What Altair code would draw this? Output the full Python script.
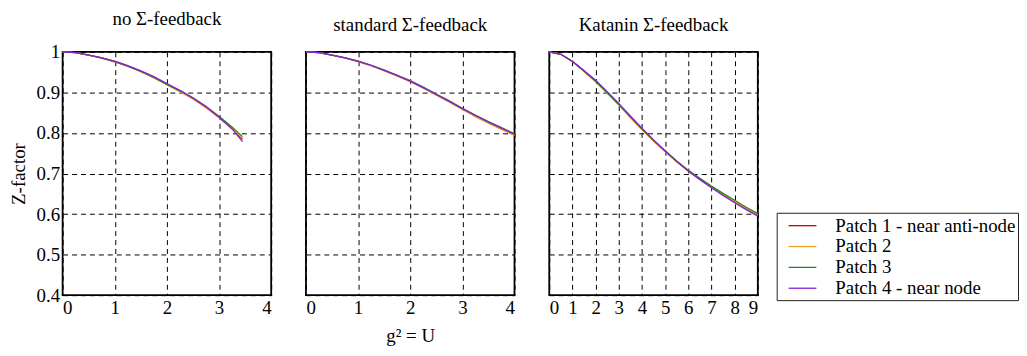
import altair as alt
import pandas as pd

FONT = "Liberation Serif"

patches = ["Patch 1 - near anti-node", "Patch 2", "Patch 3", "Patch 4 - near node"]
colors = ["#d40000", "#f0a020", "#1f8a1f", "#8a1fd8"]

# ---- panel 1: no Sigma-feedback ----
x_none = [0, 0.25, 0.5, 0.75, 1, 1.25, 1.5, 1.75, 2, 2.25, 2.5, 2.75, 3, 3.25, 3.45]
none_p1 = [1.0, 0.998, 0.992, 0.985, 0.976, 0.965, 0.952, 0.937, 0.920, 0.903, 0.885, 0.863, 0.838, 0.811, 0.785]
none_p2 = [1.0, 0.998, 0.992, 0.984, 0.975, 0.964, 0.951, 0.936, 0.919, 0.902, 0.884, 0.862, 0.838, 0.812, 0.787]
none_p3 = [1.0, 0.998, 0.992, 0.985, 0.976, 0.965, 0.952, 0.937, 0.920, 0.904, 0.886, 0.865, 0.841, 0.815, 0.791]
none_p4 = [1.0, 0.998, 0.992, 0.985, 0.977, 0.966, 0.953, 0.939, 0.922, 0.905, 0.887, 0.865, 0.839, 0.810, 0.779]

# ---- panel 2: standard Sigma-feedback ----
x_std = [0, 0.25, 0.5, 0.75, 1, 1.25, 1.5, 1.75, 2, 2.25, 2.5, 2.75, 3, 3.25, 3.5, 3.75, 4]
std_p1 = [1.0, 0.998, 0.992, 0.985, 0.976, 0.966, 0.954, 0.941, 0.927, 0.911, 0.894, 0.877, 0.859, 0.841, 0.825, 0.810, 0.795]
std_p2 = [1.0, 0.998, 0.992, 0.985, 0.976, 0.966, 0.954, 0.941, 0.927, 0.911, 0.894, 0.876, 0.858, 0.841, 0.824, 0.809, 0.794]
std_p3 = [1.0, 0.998, 0.992, 0.985, 0.977, 0.967, 0.955, 0.942, 0.929, 0.913, 0.896, 0.879, 0.861, 0.844, 0.828, 0.813, 0.798]
std_p4 = [1.0, 0.998, 0.992, 0.985, 0.977, 0.967, 0.955, 0.942, 0.928, 0.912, 0.895, 0.878, 0.860, 0.843, 0.827, 0.812, 0.797]

# ---- panel 3: Katanin Sigma-feedback ----
x_kat = [0, 0.5, 1, 1.5, 2, 2.5, 3, 3.5, 4, 4.5, 5, 5.5, 6, 6.5, 7, 7.5, 8, 8.5, 9]
kat_p1 = [1.0, 0.994, 0.976, 0.952, 0.927, 0.899, 0.870, 0.839, 0.809, 0.781, 0.754, 0.729, 0.706, 0.686, 0.667, 0.648, 0.630, 0.613, 0.597]
kat_p2 = [1.0, 0.994, 0.976, 0.952, 0.926, 0.898, 0.869, 0.838, 0.808, 0.780, 0.754, 0.729, 0.706, 0.686, 0.667, 0.649, 0.631, 0.614, 0.598]
kat_p3 = [1.0, 0.994, 0.977, 0.953, 0.928, 0.900, 0.871, 0.840, 0.810, 0.782, 0.756, 0.731, 0.708, 0.688, 0.669, 0.651, 0.634, 0.617, 0.601]
kat_p4 = [1.0, 0.994, 0.977, 0.954, 0.930, 0.902, 0.873, 0.842, 0.812, 0.783, 0.756, 0.730, 0.706, 0.685, 0.665, 0.646, 0.628, 0.611, 0.595]

titles = ["no Σ-feedback", "standard Σ-feedback", "Katanin Σ-feedback"]


def frame(xs, series):
    rows = []
    for name, vals in zip(patches, series):
        for i, (x, z) in enumerate(zip(xs, vals)):
            rows.append({"g": x, "z": z, "patch": name, "i": i})
    return pd.DataFrame(rows)


df_none = frame(x_none, [none_p1, none_p2, none_p3, none_p4])
df_std = frame(x_std, [std_p1, std_p2, std_p3, std_p4])
df_kat = frame(x_kat, [kat_p1, kat_p2, kat_p3, kat_p4])

color = alt.Color(
    "patch:N",
    scale=alt.Scale(domain=patches, range=colors),
    legend=alt.Legend(
        title=None,
        orient="none",
        legendX=719,
        legendY=162,
        symbolType="M-1.4,0H1.4",
        symbolSize=400,
        symbolStrokeWidth=1.3,
        symbolOffset=13,
        labelFontSize=19,
        labelFont=FONT,
        labelColor="black",
        labelOffset=22,
        labelLimit=400,
        rowPadding=0,
        padding=2,
        strokeColor="#222222",
        fillColor="white",
    ),
)


def panel(df, title, xmax, first, xtitle):
    yaxis = alt.Axis(
        values=[0.4, 0.5, 0.6, 0.7, 0.8, 0.9, 1.0],
        format=".1~f",
        title="Z-factor" if first else None,
        labels=first,
        ticks=False,
        domain=False,
        labelPadding=3,
        titlePadding=8,
    )
    xaxis = alt.Axis(
        values=list(range(0, xmax + 1)),
        format="d",
        title=xtitle,
        ticks=False,
        domain=False,
        labelPadding=3,
        titlePadding=10,
    )
    return (
        alt.Chart(df)
        .mark_line(strokeWidth=1.3)
        .encode(
            x=alt.X("g:Q", scale=alt.Scale(domain=[0, xmax], nice=False, zero=False), axis=xaxis),
            y=alt.Y("z:Q", scale=alt.Scale(domain=[0.4, 1.0], nice=False, zero=False), axis=yaxis),
            color=color,
            order="i:Q",
        )
        .properties(
            width=210,
            height=245,
            title=alt.TitleParams(
                title, fontSize=19, font=FONT, fontWeight="normal", color="black", offset=14
            ),
        )
    )


p1 = panel(df_none, titles[0], 4, True, None)
p2 = panel(df_std, titles[1], 4, False, "g² = U")
p3 = panel(df_kat, titles[2], 9, False, None)

chart = (
    alt.hconcat(p1, p2, p3, spacing=35, bounds="flush")
    .properties(padding=0)
    .configure(font=FONT)
    .configure_view(stroke="black", strokeWidth=1.8)
    .configure_axis(
        grid=True,
        gridColor="black",
        gridDash=[5, 4],
        gridWidth=1,
        gridOpacity=1,
        labelFont=FONT,
        labelFontSize=19,
        labelColor="black",
        titleFont=FONT,
        titleFontSize=19,
        titleFontWeight="normal",
        titleColor="black",
    )
)

chart.save("out.html", embed_options={"renderer": "svg", "actions": False})
